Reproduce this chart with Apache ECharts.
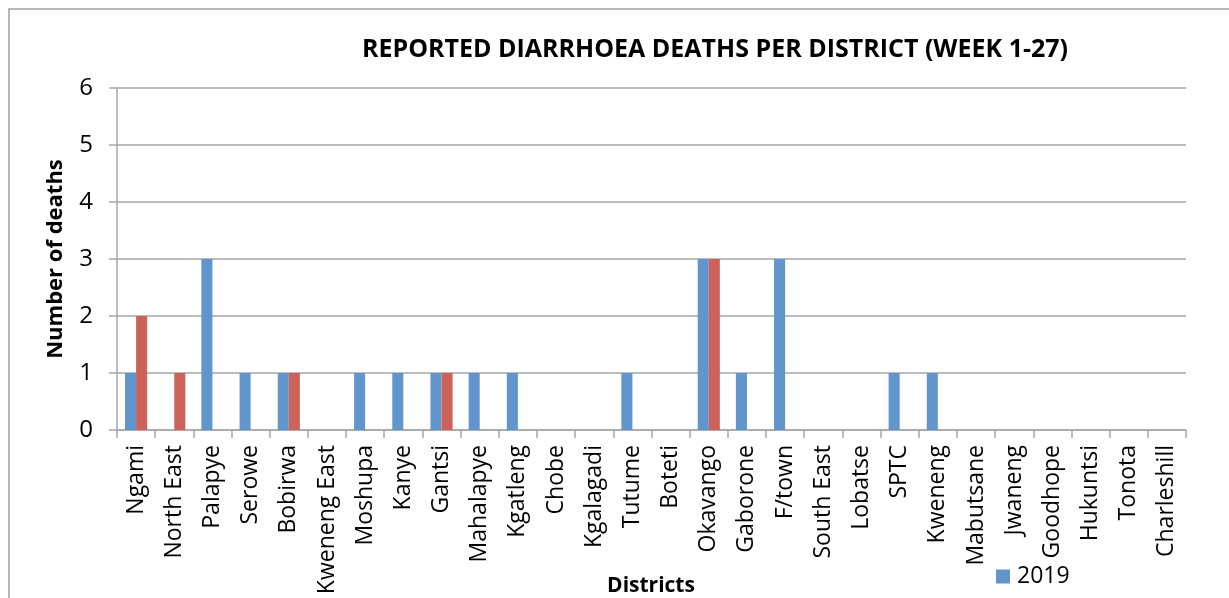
<!DOCTYPE html>
<html>
<head>
<meta charset="utf-8">
<script src="https://cdn.jsdelivr.net/npm/echarts@6/dist/echarts.min.js"></script>
<style>
html,body{margin:0;padding:0;background:#fff;}
#chart{width:1229px;height:598px;}
</style>
</head>
<body>
<div id="chart"></div>
<script>
const categories = ['Ngami','North East','Palapye','Serowe','Bobirwa','Kweneng East','Moshupa','Kanye','Gantsi','Mahalapye','Kgatleng','Chobe','Kgalagadi','Tutume','Boteti','Okavango','Gaborone','F/town','South East','Lobatse','SPTC','Kweneng','Mabutsane','Jwaneng','Goodhope','Hukuntsi','Tonota','Charleshill'];
const deaths2019 = [1,0,3,1,1,0,1,1,1,1,1,0,0,1,0,3,1,3,0,0,1,1,0,0,0,0,0,0];
const deaths2020 = [2,1,0,0,1,0,0,0,1,0,0,0,0,0,0,3,0,0,0,0,0,0,0,0,0,0,0,0];
const yTicks = [0,1,2,3,4,5,6];

const FONT = '"Open Sans", sans-serif';
const GRAY = '#A6A6A6';
const chart = echarts.init(document.getElementById('chart'), null, {renderer:'canvas'});
chart.setOption({
  animation:false,
  backgroundColor:'#fff',
  title:{
    text:'REPORTED DIARRHOEA DEATHS PER DISTRICT (WEEK 1-27)',
    left:710, top:32, textAlign:'center',
    textStyle:{fontFamily:FONT, fontSize:25, fontWeight:'bold', color:'#000'}
  },
  legend:{
    data:['2019'], left:991, top:560, itemWidth:14, itemHeight:14, itemGap:6,
    icon:'rect',
    textStyle:{fontFamily:FONT, fontSize:23, color:'#000', padding:[3,0,0,2]}
  },
  grid:{left:117, right:43, top:88, bottom:168},
  xAxis:{
    type:'category', data:categories,
    axisLine:{show:true, lineStyle:{color:GRAY, width:1.5}},
    axisTick:{show:true, length:8, alignWithLabel:false, lineStyle:{color:GRAY, width:1.5}},
    axisLabel:{rotate:90, interval:0, margin:15, fontFamily:FONT, fontSize:23, color:'#000'}
  },
  yAxis:{
    type:'value', min:yTicks[0], max:yTicks[yTicks.length-1], interval:1,
    name:'Number of deaths', nameLocation:'middle', nameGap:50, nameRotate:90,
    nameTextStyle:{fontFamily:FONT, fontSize:22, fontWeight:'bold', color:'#000'},
    axisLine:{show:true, lineStyle:{color:GRAY, width:1.5}},
    axisTick:{show:true, length:8, lineStyle:{color:GRAY, width:1.5}},
    splitLine:{show:true, lineStyle:{color:GRAY, width:1.5}},
    axisLabel:{margin:24, fontFamily:FONT, fontSize:24, color:'#000'}
  },
  graphic:[
    {type:'polyline', shape:{points:[[9,598],[9,9],[1229,9]]}, style:{stroke:'#A0A0A0', lineWidth:1.5, fill:null}, silent:true},
    {type:'text', x:651, y:576, style:{text:'Districts', font:'bold 21px '+FONT, fill:'#000', align:'center'}, silent:true}
  ],
  series:[
    {name:'2019', type:'bar', data:deaths2019, barGap:'0%', barCategoryGap:'42%',
     itemStyle:{color:'#6096CB'}},
    {name:'2020', type:'bar', data:deaths2020, barGap:'0%', barCategoryGap:'42%',
     itemStyle:{color:'#CD625B'}}
  ]
});
</script>
</body>
</html>
